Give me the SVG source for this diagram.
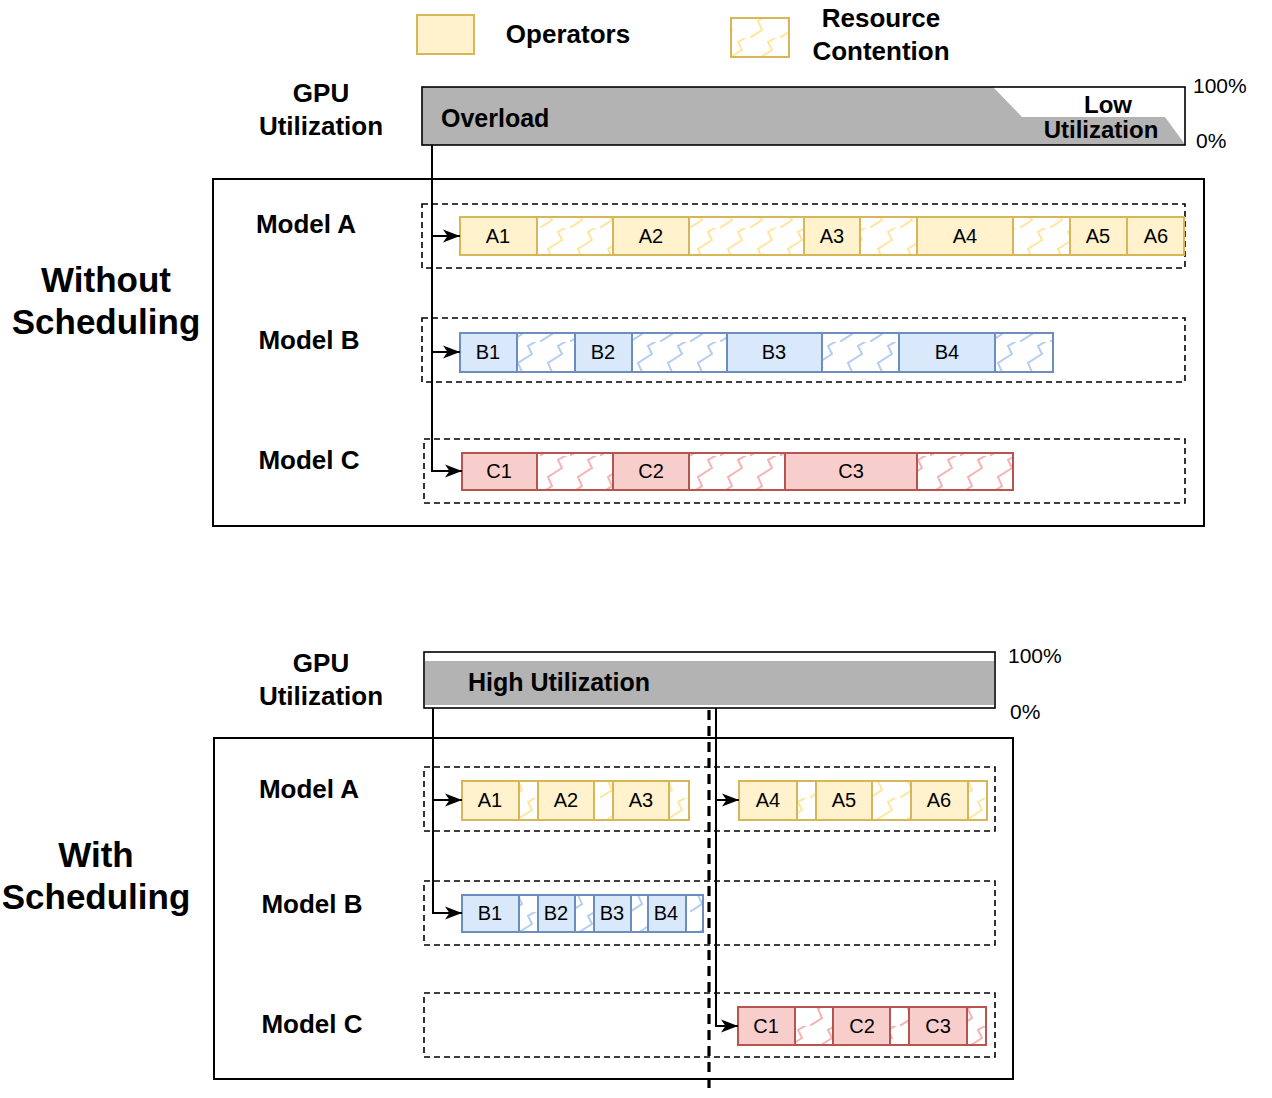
<svg xmlns="http://www.w3.org/2000/svg" width="1272" height="1098" viewBox="0 0 1272 1098">
<style>
text{font-family:"Liberation Sans",Arial,sans-serif;fill:#000}
.lbl{font-size:26px;font-weight:bold;text-anchor:middle}
.big{font-size:35px;font-weight:bold;text-anchor:middle}
.bar{font-size:25px;font-weight:bold}
.low{font-size:24px;font-weight:bold;text-anchor:middle}
.pct{font-size:21px}
.op{font-size:20px;text-anchor:middle;dominant-baseline:central}
.y{fill:#fff2cc;stroke:#d6b656;stroke-width:2}
.b{fill:#dae8fc;stroke:#6c8ebf;stroke-width:2}
.r{fill:#f8cecc;stroke:#b85450;stroke-width:2}
.yc{fill:url(#zy);stroke:#d6b656;stroke-width:2}
.bc{fill:url(#zb);stroke:#6c8ebf;stroke-width:2}
.rc{fill:url(#zr);stroke:#b85450;stroke-width:2}
.dash{fill:none;stroke:#000;stroke-width:1.6;stroke-dasharray:6 4}
.frame{fill:none;stroke:#000;stroke-width:2}
.conn{fill:none;stroke:#000;stroke-width:2}
.arr{fill:none;stroke:#000;stroke-width:2;marker-end:url(#ah)}
</style>
<defs>
<marker id="ah" markerUnits="userSpaceOnUse" markerWidth="18" markerHeight="14" refX="17" refY="7" orient="auto">
<path d="M0,0.5 L17,7 L0,13.5 L4.5,7 Z" fill="#000"/>
</marker>
<pattern id="zy" patternUnits="userSpaceOnUse" width="30" height="38">
<rect width="30" height="38" fill="#fff"/>
<path d="M-2,39 L12,30 L8,21 L22,12 L18,4 L32,-4" fill="none" stroke="#ffe69e" stroke-width="2"/>
</pattern>
<pattern id="zb" patternUnits="userSpaceOnUse" width="30" height="38">
<rect width="30" height="38" fill="#fff"/>
<path d="M-2,39 L12,30 L8,21 L22,12 L18,4 L32,-4" fill="none" stroke="#b4cdf0" stroke-width="2"/>
</pattern>
<pattern id="zr" patternUnits="userSpaceOnUse" width="30" height="38">
<rect width="30" height="38" fill="#fff"/>
<path d="M-2,39 L12,30 L8,21 L22,12 L18,4 L32,-4" fill="none" stroke="#f6b3b3" stroke-width="2"/>
</pattern>
</defs>
<rect width="1272" height="1098" fill="#fff"/>

<g id="legend">
<rect class="y" x="417" y="15" width="57" height="39"/>
<text class="lbl" x="568" y="43">Operators</text>
<rect class="yc" x="731" y="18" width="58" height="39"/>
<text class="lbl" x="881" y="27">Resource</text>
<text class="lbl" x="881" y="60">Contention</text>
</g>

<g id="titles">
<text class="big" x="106" y="292">Without</text>
<text class="big" x="106" y="334">Scheduling</text>
<text class="big" x="96" y="867">With</text>
<text class="big" x="96" y="909">Scheduling</text>
<text class="lbl" x="321" y="102">GPU</text>
<text class="lbl" x="321" y="135">Utilization</text>
<text class="lbl" x="321" y="672">GPU</text>
<text class="lbl" x="321" y="705">Utilization</text>
<text class="lbl" x="306" y="233">Model A</text>
<text class="lbl" x="309" y="349">Model B</text>
<text class="lbl" x="309" y="469">Model C</text>
<text class="lbl" x="309" y="798">Model A</text>
<text class="lbl" x="312" y="913">Model B</text>
<text class="lbl" x="312" y="1033">Model C</text>
</g>

<g id="gpu-top">
<rect x="422" y="87" width="763" height="58" fill="#fff" stroke="none"/>
<polygon points="422,87 993,87 1022,117 1165,117 1184,143 1185,145 422,145" fill="#b3b3b3"/>
<rect x="422" y="87" width="763" height="58" fill="none" stroke="#000" stroke-width="1.6"/>
<text class="bar" x="441" y="127">Overload</text>
<text class="low" x="1108" y="113">Low</text>
<text class="low" x="1101" y="138">Utilization</text>
<text class="pct" x="1193" y="93">100%</text>
<text class="pct" x="1196" y="148">0%</text>
</g>

<g id="gpu-bottom">
<rect x="424" y="652" width="571" height="56" fill="#fff" stroke="#000" stroke-width="1.6"/>
<rect x="425" y="661" width="569" height="44" fill="#b3b3b3"/>
<text class="bar" x="468" y="691">High Utilization</text>
<text class="pct" x="1008" y="663">100%</text>
<text class="pct" x="1010" y="719">0%</text>
</g>

<g id="frame-top"><rect class="frame" x="213" y="179" width="991" height="347"/></g>
<g id="frame-bottom"><rect class="frame" x="214" y="738" width="799" height="341"/></g>

<g id="lanes">
<rect class="dash" x="422" y="204" width="763" height="64"/>
<rect class="dash" x="422" y="318" width="763" height="64"/>
<rect class="dash" x="424" y="439" width="761" height="64"/>
<rect class="dash" x="424" y="767" width="571" height="64"/>
<rect class="dash" x="424" y="881" width="571" height="64"/>
<rect class="dash" x="424" y="993" width="571" height="64"/>
</g>

<g id="top-modelA">
<rect class="y" x="460" y="217" width="77" height="38"/><text class="op" x="498" y="236">A1</text>
<rect class="yc" x="537" y="217" width="76" height="38"/>
<rect class="y" x="613" y="217" width="76" height="38"/><text class="op" x="651" y="236">A2</text>
<rect class="yc" x="689" y="217" width="115" height="38"/>
<rect class="y" x="804" y="217" width="56" height="38"/><text class="op" x="832" y="236">A3</text>
<rect class="yc" x="860" y="217" width="57" height="38"/>
<rect class="y" x="917" y="217" width="96" height="38"/><text class="op" x="965" y="236">A4</text>
<rect class="yc" x="1013" y="217" width="57" height="38"/>
<rect class="y" x="1070" y="217" width="57" height="38"/><text class="op" x="1098" y="236">A5</text>
<rect class="y" x="1127" y="217" width="57" height="38"/><text class="op" x="1156" y="236">A6</text>
</g>

<g id="top-modelB">
<rect class="b" x="460" y="333" width="57" height="39"/><text class="op" x="488" y="352">B1</text>
<rect class="bc" x="517" y="333" width="58" height="39"/>
<rect class="b" x="575" y="333" width="57" height="39"/><text class="op" x="603" y="352">B2</text>
<rect class="bc" x="632" y="333" width="95" height="39"/>
<rect class="b" x="727" y="333" width="95" height="39"/><text class="op" x="774" y="352">B3</text>
<rect class="bc" x="822" y="333" width="77" height="39"/>
<rect class="b" x="899" y="333" width="96" height="39"/><text class="op" x="947" y="352">B4</text>
<rect class="bc" x="995" y="333" width="58" height="39"/>
</g>

<g id="top-modelC">
<rect class="r" x="462" y="453" width="75" height="37"/><text class="op" x="499" y="471">C1</text>
<rect class="rc" x="537" y="453" width="76" height="37"/>
<rect class="r" x="613" y="453" width="76" height="37"/><text class="op" x="651" y="471">C2</text>
<rect class="rc" x="689" y="453" width="96" height="37"/>
<rect class="r" x="785" y="453" width="132" height="37"/><text class="op" x="851" y="471">C3</text>
<rect class="rc" x="917" y="453" width="96" height="37"/>
</g>

<g id="bottom-modelA">
<rect class="y" x="462" y="781" width="57" height="39"/><text class="op" x="490" y="800">A1</text>
<rect class="yc" x="519" y="781" width="19" height="39"/>
<rect class="y" x="538" y="781" width="56" height="39"/><text class="op" x="566" y="800">A2</text>
<rect class="yc" x="594" y="781" width="19" height="39"/>
<rect class="y" x="613" y="781" width="56" height="39"/><text class="op" x="641" y="800">A3</text>
<rect class="yc" x="669" y="781" width="20" height="39"/>
<rect class="y" x="739" y="781" width="58" height="39"/><text class="op" x="768" y="800">A4</text>
<rect class="yc" x="797" y="781" width="19" height="39"/>
<rect class="y" x="816" y="781" width="56" height="39"/><text class="op" x="844" y="800">A5</text>
<rect class="yc" x="872" y="781" width="39" height="39"/>
<rect class="y" x="911" y="781" width="57" height="39"/><text class="op" x="939" y="800">A6</text>
<rect class="yc" x="968" y="781" width="19" height="39"/>
</g>

<g id="bottom-modelB">
<rect class="b" x="462" y="895" width="57" height="37"/><text class="op" x="490" y="913">B1</text>
<rect class="bc" x="519" y="895" width="19" height="37"/>
<rect class="b" x="538" y="895" width="37" height="37"/><text class="op" x="556" y="913">B2</text>
<rect class="bc" x="575" y="895" width="19" height="37"/>
<rect class="b" x="594" y="895" width="37" height="37"/><text class="op" x="612" y="913">B3</text>
<rect class="bc" x="631" y="895" width="17" height="37"/>
<rect class="b" x="648" y="895" width="38" height="37"/><text class="op" x="666" y="913">B4</text>
<rect class="bc" x="686" y="895" width="17" height="37"/>
</g>

<g id="bottom-modelC">
<rect class="r" x="738" y="1007" width="57" height="38"/><text class="op" x="766" y="1026">C1</text>
<rect class="rc" x="795" y="1007" width="38" height="38"/>
<rect class="r" x="833" y="1007" width="57" height="38"/><text class="op" x="862" y="1026">C2</text>
<rect class="rc" x="890" y="1007" width="19" height="38"/>
<rect class="r" x="909" y="1007" width="58" height="38"/><text class="op" x="938" y="1026">C3</text>
<rect class="rc" x="967" y="1007" width="19" height="38"/>
</g>

<g id="connectors">
<path class="conn" d="M432,145 L432,236"/>
<path class="arr" d="M432,236 L460,236"/>
<path class="conn" d="M432,236 L432,352"/>
<path class="arr" d="M432,352 L460,352"/>
<path class="arr" d="M432,352 L432,471 L462,471"/>
<path class="arr" d="M433,708 L433,800 L462,800"/>
<path class="arr" d="M433,800 L433,913 L462,913"/>
<path class="arr" d="M716,708 L716,800 L739,800"/>
<path class="arr" d="M716,800 L716,1026 L738,1026"/>
<path d="M709,710 L709,1094" fill="none" stroke="#000" stroke-width="3.2" stroke-dasharray="10 6"/>
</g>
</svg>
